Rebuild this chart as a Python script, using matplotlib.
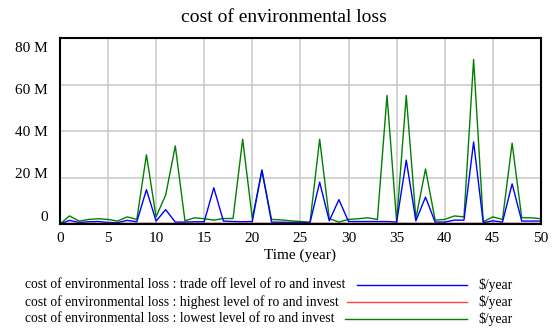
import matplotlib
matplotlib.use("Agg")
import matplotlib.pyplot as plt
from matplotlib.lines import Line2D

plt.rcParams['font.family'] = ['Liberation Serif', 'DejaVu Serif']

# values in millions of $/year, one per year 0..50
years = list(range(51))
trade_off = [0, 1.6, 0.7, 1.0, 1.1, 0.7, 0.6, 1.6, 1.0, 14.8, 1.3, 6.2, 0.85, 0.85, 1.0, 1.0,
             15.6, 1.3, 1.1, 1.0, 1.1, 23.3, 0.85, 0.8, 0.7, 0.7, 0.6, 18.0, 1.4, 10.5, 1.1,
             1.1, 1.1, 1.1, 1.1, 0.85, 27.5, 1.4, 11.6, 0.85, 0.85, 1.7, 1.7, 35.3, 0.6, 1.4,
             0.85, 17.3, 1.3, 1.3, 1.3]
highest = [0, 0.15, 0.15, 0.15, 0.15, 0.15, 0.15, 0.15, 0.15, 0.15, 0.15, 0.15, 0.15, 0.15,
           0.15, 0.15, 0.15, 0.15, 0.15, 0.15, 0.15, 0.15, 0.15, 0.15, 0.15, 0.15, 0.15, 0.15,
           0.15, 0.15, 0.15, 0.15, 0.15, 0.15, 0.15, 0.15, 0.15, 0.15, 0.15, 0.15, 0.15, 0.15,
           0.15, 0.15, 0.15, 0.15, 0.15, 0.15, 0.15, 0.15, 0.15]
lowest = [0, 3.5, 1.3, 2.0, 2.3, 2.0, 1.3, 3.1, 2.0, 29.8, 3.1, 12.5, 33.6, 1.4, 2.7, 2.3, 1.7,
          2.4, 2.4, 36.5, 2.4, 23.0, 2.0, 1.8, 1.4, 1.1, 0.85, 36.5, 2.4, 0.85, 2.0, 2.3, 2.7,
          2.0, 55.3, 1.0, 55.3, 2.4, 23.7, 1.7, 2.0, 3.5, 3.1, 70.8, 1.0, 3.1, 2.0, 34.8, 2.7,
          2.7, 2.3]
ylabels = ['0', '20 M', '40 M', '60 M', '80 M']
legend_names = ['cost of environmental loss : trade off level of ro and invest',
                'cost of environmental loss : highest level of ro and invest',
                'cost of environmental loss : lowest level of ro and invest']

fig = plt.figure(figsize=(5.54, 3.31), dpi=100)
ax = fig.add_axes([0.108, 0.323, 0.8685, 0.562])

ax.plot(years, lowest, color='#008000', lw=1)
ax.plot(years, trade_off, color='#0000ff', lw=1)
ax.plot(years, highest, color='#c00000', lw=1.5)

ax.set_xlim(0, 50)
ax.set_ylim(0, 80)
ax.set_xticks(range(0, 51, 5))
ax.set_yticks([0, 20, 40, 60, 80])
ax.set_yticklabels([])
ax.tick_params(length=0, labelsize=11, pad=6)
ax.grid(True, color='#cccccc', lw=1.2)
ax.set_axisbelow(True)
for s in ax.spines.values():
    s.set_linewidth(1.5)

# vensim puts the y labels evenly between the gridlines, slightly off
for i, lab in enumerate(ylabels):
    ax.text(-0.025, 0.038 + i * 0.227, lab, transform=ax.transAxes,
            ha='right', va='center', fontsize=11)

ax.set_xlabel('Time (year)', fontsize=11, labelpad=2)
fig.text(0.513, 0.948, 'cost of environmental loss', ha='center', va='center', fontsize=14)

# legend rows
colors = ['#0000ff', '#ff4040', '#008000']
line_start = [357, 347, 345]
rows_y = [285, 302, 319]
for name, c, x0, y in zip(legend_names, colors, line_start, rows_y):
    fy = 1 - y / 331
    fig.text(25 / 554, fy, name, ha='left', va='center', fontsize=9.8)
    fig.add_artist(Line2D([x0 / 554, 467 / 554], [fy, fy], color=c, lw=1,
                          transform=fig.transFigure))
    fig.text(478 / 554, fy, r'\$/year', ha='left', va='center', fontsize=9.8)

fig.savefig('out.png', dpi=100)
